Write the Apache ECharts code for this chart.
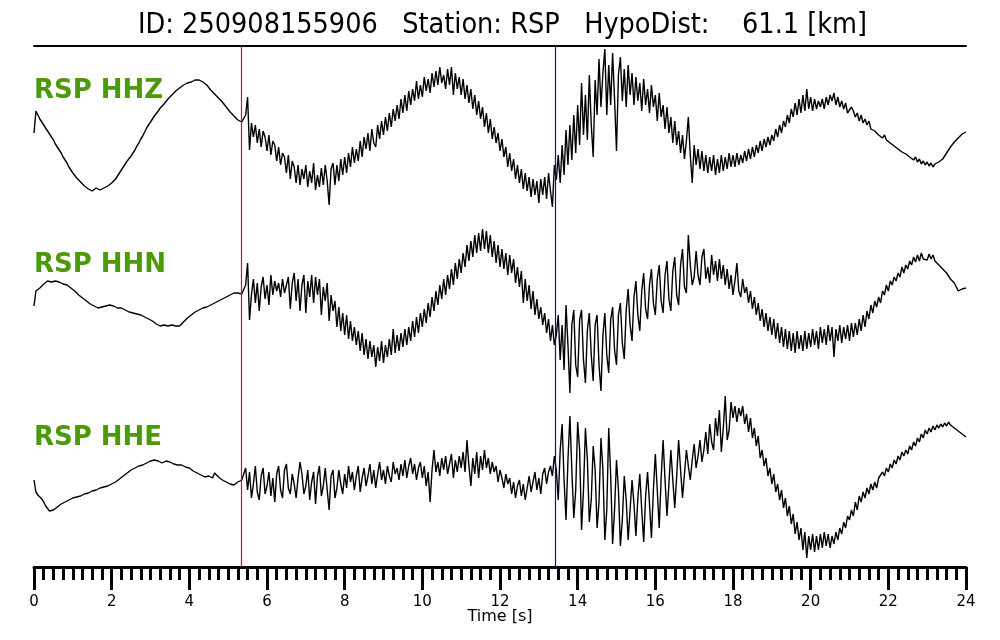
<!DOCTYPE html>
<html>
<head>
<meta charset="utf-8">
<title>RSP seismogram</title>
<script src="https://cdn.jsdelivr.net/npm/echarts@6/dist/echarts.min.js"></script>
<style>
  html, body { margin: 0; padding: 0; background: #fff; }
  #chart { width: 1000px; height: 640px; }
</style>
</head>
<body>
<div id="chart"></div>
<script>
// sample interval of the traces (s)
const dt = 0.05
// picks (s)
const pickP = 5.34
const pickS = 13.43
const channels = ['RSP HHZ', 'RSP HHN', 'RSP HHE']

// amplitudes, one row per second (0.05 s samples), 0 .. 24 s
const hhz = [
  2, 24, 20, 16, 13, 10, 7, 4, 1, -2, -5, -9, -12, -15, -18, -22, -25, -28, -32, -35,
  -38, -40, -43, -45, -47, -49, -51, -53, -54, -55, -56, -54, -53, -55, -55, -54, -53, -52, -51, -49,
  -48, -46, -44, -41, -38, -35, -32, -29, -26, -24, -21, -18, -15, -11, -8, -4, -1, 3, 7, 10,
  13, 16, 19, 21, 24, 27, 29, 31, 33, 36, 38, 40, 42, 44, 46, 47, 49, 50, 51, 52,
  53, 53, 54, 55, 56, 55, 54, 53, 52, 50, 48, 45, 43, 41, 39, 37, 35, 33, 31, 28,
  26, 23, 21, 19, 17, 15, 14, 13, 13, 20, 38, -15, 12, -2, 10, -8, 6, -12, 4, -2,
  -16, 0, -20, -6, -10, -26, -12, -30, -18, -22, -38, -20, -44, -26, -32, -48, -30, -50, -34, -44,
  -30, -52, -36, -48, -28, -55, -40, -52, -33, -50, -30, -46, -70, -34, -28, -50, -30, -46, -24, -40,
  -22, -38, -18, -32, -12, -28, -14, -26, -6, -22, -2, -14, 2, -16, 6, -8, -12, 10, -4, 14,
  0, 18, 4, 22, 8, 26, 14, 30, 16, 36, 22, 40, 24, 44, 30, 46, 34, 54, 36, 50,
  38, 58, 44, 56, 42, 62, 48, 64, 50, 68, 52, 60, 46, 66, 50, 68, 40, 62, 46, 58,
  40, 56, 36, 50, 32, 46, 26, 40, 20, 34, 16, 28, 8, 22, 2, 16, -4, 8, -8, 2,
  -16, -4, -22, -12, -32, -18, -36, -24, -44, -30, -48, -34, -54, -38, -56, -42, -62, -44, -60, -46,
  -68, -44, -60, -42, -64, -38, -56, -72, -30, -45, -20, -48, -10, -40, 5, -30, 10, -25, 20, -18,
  30, -10, 52, 0, 40, -5, 60, 10, -22, 55, 20, 76, 28, 62, 86, 20, 70, 30, 82, 36,
  -16, 60, 78, 34, 66, 28, 70, 40, 62, 30, 58, 34, 52, 24, 56, 30, 46, 22, 50, 28,
  40, 14, 42, 18, 30, 6, 28, 2, 18, -8, 14, -10, 4, -18, 0, -24, -6, 18, -20, -48,
  -10, -30, -14, -34, -16, -36, -20, -38, -22, -36, -20, -40, -24, -38, -20, -36, -22, -34, -18, -32,
  -20, -32, -18, -30, -20, -28, -16, -26, -14, -24, -12, -22, -10, -18, -6, -16, -4, -12, -2, -10,
  0, -6, 6, -2, 10, 2, 14, 8, 20, 12, 26, 18, 32, 20, 36, 22, 40, 24, 46, 26,
  38, 24, 36, 26, 34, 28, 36, 26, 38, 30, 40, 34, 42, 30, 38, 28, 34, 26, 32, 22,
  20, 28, 24, 18, 22, 14, 20, 12, 16, 10, 14, 6, 8, 4, 6, 0, 2, -3, 0, -5,
  -3, -8, -6, -11, -9, -14, -12, -17, -15, -19, -17, -22, -20, -25, -22, -27, -24, -29, -26, -30,
  -27, -31, -28, -32, -29, -31, -27, -28, -24, -22, -18, -17, -12, -11, -7, -6, -3, -2, 1, 2,
  3
]
const hhn = [
  -1, 14, 15, 17, 18, 21, 23, 24, 24, 23, 24, 24, 23, 23, 22, 21, 21, 20, 18, 17,
  16, 14, 12, 10, 8, 7, 5, 4, 3, 1, 1, -1, -2, -3, -3, -2, -2, -1, -1, 0,
  0, -1, -2, -3, -3, -3, -4, -5, -6, -7, -7, -8, -8, -9, -10, -10, -11, -12, -13, -14,
  -15, -16, -17, -19, -20, -21, -21, -20, -20, -21, -21, -20, -20, -21, -22, -21, -19, -17, -15, -13,
  -12, -10, -9, -7, -6, -5, -4, -3, -3, -2, -1, 0, 1, 2, 3, 4, 5, 6, 7, 8,
  9, 10, 11, 12, 13, 12, 12, 11, 12, 20, 42, -15, 10, 26, 2, 22, -6, 18, 28, 6,
  20, 0, 30, 10, 24, 14, 22, 8, 26, 12, 20, 28, -4, 22, 32, 4, 26, -6, 20, 30,
  -8, 24, 8, 30, 2, 28, 10, 26, -10, 18, 4, 22, -16, 10, -6, 4, -22, -2, -26, -8,
  -30, -10, -34, -16, -36, -22, -40, -26, -46, -28, -50, -34, -54, -36, -52, -40, -62, -42, -56, -36,
  -58, -40, -52, -34, -50, -24, -48, -30, -46, -28, -42, -24, -40, -22, -36, -16, -32, -12, -28, -8,
  -22, -4, -18, 2, -12, 8, -6, 14, 0, 20, 6, 26, 10, 30, 16, 36, 20, 42, 26, 46,
  32, 52, 38, 60, 44, 64, 48, 70, 52, 72, 54, 76, 56, 74, 52, 70, 48, 64, 42, 60,
  38, 56, 36, 52, 30, 50, 32, 46, 22, 38, 18, 34, 2, 26, 4, 20, -4, 14, -10, 6,
  -14, -2, -20, -8, -28, -14, -36, -20, -40, -30, -10, -55, -20, -65, 0, -40, -88, -20, -5, -60,
  -72, -15, -5, -55, -78, -25, -8, -50, -76, -20, -10, -60, -86, -30, -8, -50, -68, -15, -2, -45,
  -60, -10, 2, -38, -54, -5, 16, -20, -36, 8, 24, -10, -26, 14, 32, -4, -14, 20, 36, 2,
  -10, 26, 40, 4, -8, 30, 44, 6, -6, 34, 48, 10, 0, 40, 56, 18, 12, 70, 40, 20,
  28, 54, 30, 20, 48, 56, 26, 38, 22, 50, 30, 44, 24, 46, 26, 40, 20, 36, 16, 30,
  10, 24, 42, 14, 8, 26, 12, 18, 2, 14, -4, 8, -10, 2, -16, -4, -22, -8, -26, -12,
  -30, -14, -34, -18, -38, -22, -42, -24, -44, -26, -46, -28, -48, -26, -44, -30, -46, -26, -44, -28,
  -42, -24, -40, -26, -44, -22, -38, -24, -40, -20, -36, -22, -52, -24, -36, -20, -38, -22, -34, -20,
  -36, -18, -32, -18, -30, -14, -26, -10, -22, -6, -14, 0, -8, 4, -2, 8, 2, 14, 10, 20,
  14, 24, 20, 28, 24, 32, 28, 38, 32, 40, 36, 44, 40, 48, 43, 50, 44, 52, 46, 48,
  45, 51, 46, 50, 44, 46, 40, 42, 36, 38, 32, 32, 26, 27, 22, 20, 14, 12, 16, 15,
  17
]
const hhe = [
  0, -12, -15, -17, -19, -22, -26, -28, -31, -31, -30, -28, -27, -25, -24, -23, -22, -21, -20, -19,
  -18, -18, -17, -16, -16, -15, -14, -14, -13, -12, -11, -11, -10, -9, -8, -8, -7, -6, -6, -5,
  -4, -3, -2, -1, 1, 2, 4, 5, 7, 9, 10, 11, 12, 13, 14, 14, 15, 16, 17, 18,
  19, 20, 20, 21, 19, 18, 17, 18, 19, 18, 18, 17, 16, 16, 15, 16, 15, 14, 13, 13,
  12, 10, 9, 8, 7, 6, 5, 4, 3, 3, 4, 3, 2, 7, 5, 3, 2, 0, -1, -2,
  -3, -4, -4, -5, -3, -2, -1, 0, 2, 12, -10, 8, -18, -4, 14, -12, -20, 4, 12, -14,
  -6, 8, -16, 2, -22, 6, 14, -10, -18, 10, 16, -8, -14, 6, -4, -18, 2, 18, 6, -14,
  -6, 10, -20, -2, 8, -24, 4, 14, -16, -6, 12, -10, -30, 4, 10, -18, -8, 10, -4, -14,
  6, -8, 14, -2, 8, -10, 4, 14, -12, 2, 12, -6, 4, 16, -4, 10, -8, 6, 18, 0,
  10, -4, 14, 4, -2, 18, 6, 12, 0, 16, 4, 20, 2, 14, 22, 6, 16, 0, 12, 18,
  2, 14, -6, 8, -22, 10, 30, 8, 18, 4, 22, 10, 24, 6, 16, 26, 2, 20, 8, 24,
  12, 28, 8, 40, 14, -6, 22, 6, 28, 2, 24, 10, 30, 12, 22, 6, 18, 8, 14, -2,
  10, 2, -8, 6, -4, 2, -14, -2, -18, -6, 0, -16, -4, -20, -8, 4, -12, -2, 8, -10,
  2, -14, 6, 12, -4, 8, 14, 4, 24, 10, -20, 30, 56, 0, -40, 20, 64, 10, -38, -10,
  58, 30, -50, -10, 52, 20, -42, -20, 34, 10, -48, -22, 42, 10, -60, -30, 52, 5, -64, -30,
  20, -10, -66, -40, 4, -20, -60, -30, 0, -24, -56, -18, 6, -30, -62, -16, 8, -24, -58, -10,
  26, -10, -48, 2, 40, 0, -36, -4, 30, 0, -28, 4, 40, 10, -18, 6, 30, 14, 0, 20,
  36, 12, 24, 40, 18, 30, 48, 26, 56, 38, 30, 62, 44, 70, 28, 52, 84, 40, 50, 78,
  62, 74, 58, 72, 64, 74, 56, 66, 48, 62, 42, 52, 34, 44, 22, 30, 14, 22, 4, 12,
  -4, 6, -12, -4, -20, -10, -28, -18, -36, -26, -44, -34, -54, -42, -60, -48, -70, -52, -78, -56,
  -70, -54, -72, -56, -70, -54, -68, -52, -66, -54, -68, -56, -64, -52, -60, -48, -54, -42, -48, -36,
  -40, -30, -36, -22, -30, -16, -22, -12, -18, -8, -14, -4, -10, -2, -8, 2, 0, 8, 4, 12,
  8, 16, 12, 20, 16, 24, 20, 28, 24, 30, 26, 34, 30, 38, 34, 42, 38, 46, 42, 50,
  46, 52, 48, 54, 50, 55, 52, 56, 53, 57, 54, 58, 55, 57, 52, 53, 49, 50, 46, 47,
  43
]

const traces = [hhz, hhn, hhe]
const font = 'DejaVu Sans'

const myChart = echarts.init(document.getElementById('chart'), null, { renderer: 'canvas' })

// one band per channel + one full-height grid for the time axis and picks
const bandTop = [55, 225, 400]
const grid = bandTop.map(function (t) {
  return { left: 34, right: 34, top: t, height: 160 }
})
grid.push({ left: 34, right: 34, top: 46, height: 521 })

const xAxis = []
const yAxis = []
for (let i = 0; i < 3; i++) {
  xAxis.push({ type: 'value', gridIndex: i, min: 0, max: 24, show: false })
  yAxis.push({ type: 'value', gridIndex: i, min: -80, max: 80, show: false })
}
// time axis
xAxis.push({
  type: 'value',
  gridIndex: 3,
  position: 'bottom',
  min: 0,
  max: 24,
  interval: 2,
  axisLine: { show: true, lineStyle: { color: '#000', width: 3 } },
  axisTick: { show: true, length: 23, lineStyle: { color: '#000', width: 3 } },
  minorTick: { show: true, splitNumber: 8, length: 13, lineStyle: { color: '#000', width: 3 } },
  axisLabel: { color: '#000', fontSize: 15, fontFamily: font, margin: 28 },
  splitLine: { show: false },
  name: 'Time [s]',
  nameLocation: 'middle',
  nameGap: 42,
  nameMoveOverlap: false,
  nameTextStyle: { color: '#000', fontSize: 16, fontFamily: font }
})
// line under the title
xAxis.push({
  type: 'value',
  gridIndex: 3,
  position: 'top',
  min: 0,
  max: 24,
  axisLine: { show: true, lineStyle: { color: '#000', width: 2 } },
  axisTick: { show: false },
  axisLabel: { show: false },
  splitLine: { show: false }
})
yAxis.push({ type: 'value', gridIndex: 3, min: 0, max: 1, show: false })

const series = traces.map(function (arr, i) {
  return {
    name: channels[i],
    type: 'line',
    xAxisIndex: i,
    yAxisIndex: i,
    showSymbol: false,
    clip: false,
    sampling: false,
    lineStyle: { color: '#000', width: 1.4 },
    data: arr.map(function (v, k) { return [+(k * dt).toFixed(2), v] })
  }
})
// P and S pick lines
series.push({
  type: 'line',
  xAxisIndex: 3,
  yAxisIndex: 3,
  data: [],
  z: 5,
  markLine: {
    silent: true,
    symbol: ['none', 'none'],
    animation: false,
    label: { show: false },
    lineStyle: { type: 'solid', width: 1.2 },
    data: [
      { xAxis: pickP, lineStyle: { color: '#ff0000' } },
      { xAxis: pickS, lineStyle: { color: '#0000ff' } }
    ]
  }
})

const titles = [{
  text: 'ID: 250908155906   Station: RSP   HypoDist:    61.1 [km]',
  left: 138,
  top: 11,
  padding: 0,
  textStyle: {
    color: '#000', fontSize: 28.5, fontWeight: 'normal',
    fontFamily: "'DejaVu Sans Condensed', 'DejaVu Sans'"
  }
}]
const labelTop = [78, 252, 425]
channels.forEach(function (c, i) {
  titles.push({
    text: c,
    left: 34,
    top: labelTop[i],
    padding: 0,
    textStyle: { color: '#4c9a0a', fontSize: 26, fontWeight: 'bold', fontFamily: font }
  })
})

const option = {
  backgroundColor: '#fff',
  animation: false,
  title: titles,
  grid: grid,
  xAxis: xAxis,
  yAxis: yAxis,
  series: series
}
myChart.setOption(option)
</script>
</body>
</html>
